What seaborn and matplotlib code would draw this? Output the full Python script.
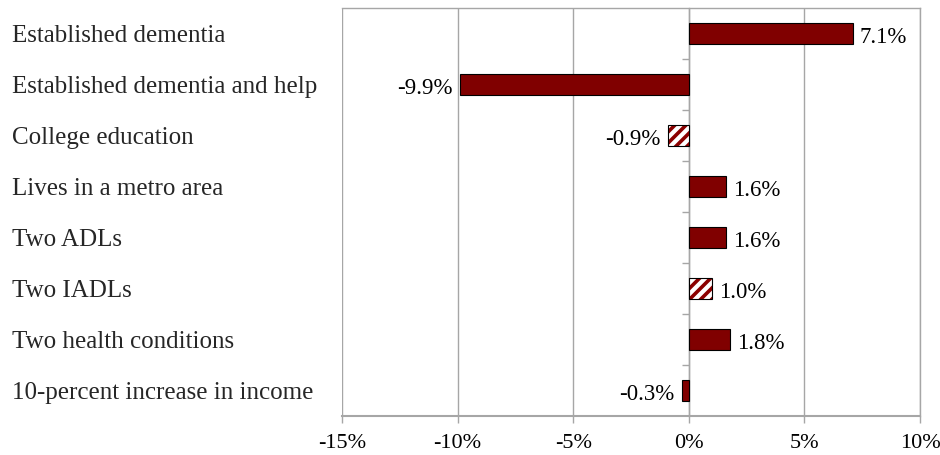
import matplotlib
matplotlib.use("Agg")
import matplotlib.pyplot as plt
import matplotlib.transforms as mtransforms
from matplotlib.patches import Rectangle
import seaborn as sns
import pandas as pd

categories = [
    "Established dementia",
    "Established dementia and help",
    "College education",
    "Lives in a metro area",
    "Two ADLs",
    "Two IADLs",
    "Two health conditions",
    "10-percent increase in income",
]
values = [7.1, -9.9, -0.9, 1.6, 1.6, 1.0, 1.8, -0.3]
significant = [True, True, False, True, True, False, True, True]
xticks = [-15, -10, -5, 0, 5, 10]

sns.set_theme(style="white")
plt.rcParams["font.family"] = ["Liberation Serif", "DejaVu Serif"]
plt.rcParams["hatch.linewidth"] = 2.6

df = pd.DataFrame({"cat": categories, "val": values})

fig = plt.figure(figsize=(9.4, 4.56), dpi=100)
ax = fig.add_axes([342 / 940, 1 - 417 / 456, (920 - 342) / 940, (417 - 9) / 456])

sns.barplot(data=df, x="val", y="cat", orient="h", color="#800000",
            width=0.4, edgecolor="black", linewidth=0.8, saturation=1, ax=ax)

dark_red = "#8B0000"
for patch, sig in zip(ax.patches, significant):
    if not sig:
        patch.set_facecolor("white")
        patch.set_edgecolor(dark_red)
        patch.set_hatch("///")
        patch.set_linewidth(0)
        bb = patch.get_bbox()
        ax.add_patch(Rectangle((bb.x0, bb.y0), bb.width, bb.height,
                               fill=False, edgecolor="black", linewidth=0.8, zorder=patch.get_zorder() + 0.1))

ax.set_xlim(-15, 10)
ax.set_ylim(len(categories) - 0.5, -0.5)
ax.set_xticks(xticks)
ax.set_xticklabels([f"{t}%" for t in xticks], fontsize=16)
ax.set_xlabel("")
ax.set_ylabel("")

ax.grid(axis="x", color="#a6a6a6", linewidth=1)
ax.set_axisbelow(True)

for s in ["top", "right"]:
    ax.spines[s].set_visible(True)
    ax.spines[s].set_color("#a6a6a6")
    ax.spines[s].set_linewidth(1)
ax.spines["bottom"].set_color("#a6a6a6")
ax.spines["bottom"].set_linewidth(1.5)
ax.spines["left"].set_position(("data", 0))
ax.spines["left"].set_color("#a6a6a6")
ax.spines["left"].set_linewidth(1)
ax.spines["left"].set_zorder(0.5)

ax.tick_params(axis="x", which="major", direction="out", length=5, color="#a6a6a6",
               width=1, bottom=True, pad=7, labelcolor="black")
ax.set_yticks([i + 0.5 for i in range(len(categories) - 1)])
ax.set_yticklabels([])
ax.tick_params(axis="y", direction="out", length=5, color="#a6a6a6", width=1, left=True)

# category labels, left aligned in the figure margin
trans = mtransforms.blended_transform_factory(fig.transFigure, ax.transData)
for i, c in enumerate(categories):
    ax.text(12 / 940, i + 0.02, c, transform=trans, ha="left", va="center",
            fontsize=18, color="#262626", clip_on=False)

# value labels
for i, v in enumerate(values):
    off = 7 if v >= 0 else -7
    ax.annotate(f"{v:.1f}%", (v, i), xytext=(off, -3), textcoords="offset pixels",
                ha="left" if v >= 0 else "right", va="center", fontsize=16.5, color="black")

fig.savefig("out.png", dpi=100)
